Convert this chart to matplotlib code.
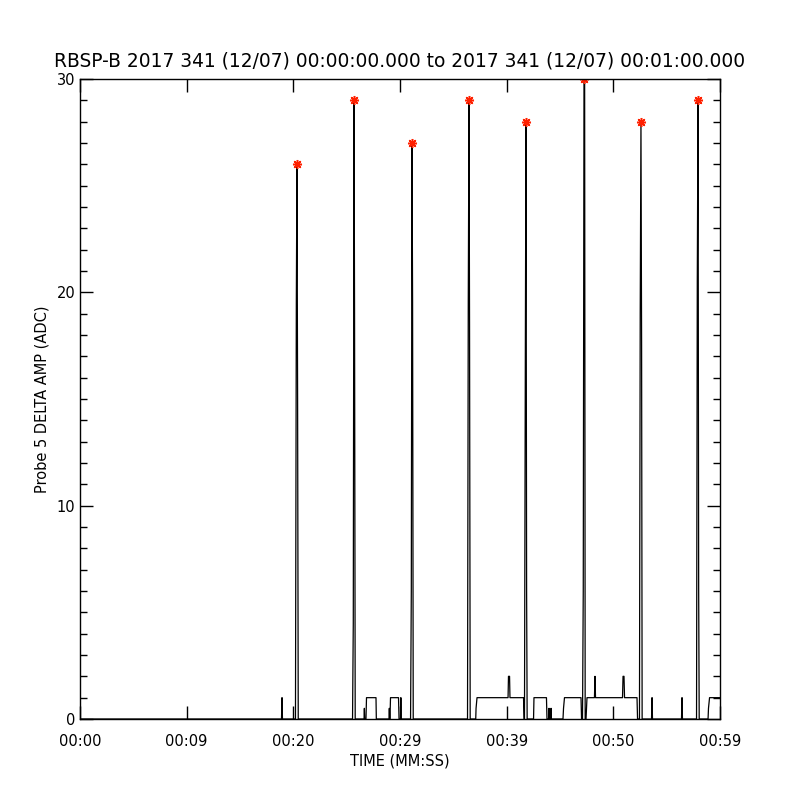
import matplotlib
matplotlib.use("Agg")
import matplotlib.pyplot as plt
from matplotlib.ticker import MultipleLocator

# time (s) and delta amplitude (ADC)
t = [0.0,
     18.89, 18.94, 18.98,
     20.20, 20.28, 20.34, 20.40, 20.46,
     25.55, 25.62, 25.69, 25.74, 25.80,
     26.63, 26.66, 26.69, 26.81, 26.86, 27.75, 27.78,
     28.97, 29.00, 29.03, 29.06, 29.11, 29.86, 29.91, 30.05, 30.08, 30.11,
     30.99, 31.06, 31.125, 31.18, 31.24,
     36.33, 36.40, 36.47, 36.52, 36.58,
     37.10, 37.13, 37.22, 40.13, 40.17, 40.27, 40.31, 41.58, 41.63,
     41.67, 41.75, 41.81, 41.87, 41.92,
     42.52, 42.56, 43.73, 43.78,
     43.94, 43.97, 44.00, 44.13, 44.16, 44.19,
     45.28, 45.33, 45.42, 46.97, 47.02,
     47.11, 47.18, 47.25, 47.31, 47.36,
     47.44, 47.53, 48.23, 48.28, 48.33, 50.86, 50.91, 51.00, 51.05, 52.22, 52.27,
     52.45, 52.52, 52.59, 52.65, 52.70,
     53.58, 53.63, 53.67, 56.39, 56.44, 56.48,
     57.80, 57.87, 57.94, 58.00, 58.05,
     58.88, 58.92, 59.02, 60.0]
amp = [0,
       0, 1, 0,
       0, 19.5, 26, 15, 0,
       0, 4.5, 29, 19, 0,
       0, 0.5, 0, 0, 1, 1, 0,
       0, 0.5, 0, 0, 1, 1, 0, 0, 1, 0,
       0, 6, 27, 19.5, 0,
       0, 19.5, 29, 18.5, 0,
       0, 0.5, 1, 1, 2, 2, 1, 1, 0,
       0, 17, 28, 6, 0,
       0, 1, 1, 0,
       0, 0.5, 0, 0, 0.5, 0,
       0, 0.5, 1, 1, 0,
       0, 6, 30, 30, 0,
       0, 1, 1, 2, 1, 1, 2, 2, 1, 1, 0,
       0, 19, 28, 17.5, 0,
       0, 1, 0, 0, 1, 0,
       0, 20.5, 29, 6, 0,
       0, 0.5, 1, 1]

# peak markers
peak_t = [20.34, 25.69, 31.125, 36.47, 41.81, 47.25, 52.59, 57.94]
peak_amp = [26, 29, 27, 29, 28, 30, 28, 29]

xticks = [0, 10, 20, 30, 40, 50, 60]
xlabels = ["00:00", "00:09", "00:20", "00:29", "00:39", "00:50", "00:59"]

fig = plt.figure(figsize=(8, 8), dpi=100)
ax = fig.add_axes([0.1, 0.10125, 0.8, 0.8])

ax.plot(t, amp, color="black", lw=0.9)
ax.plot(peak_t, peak_amp, linestyle="none", marker=(8, 2, 0), ms=6.5,
        mew=1.1, color="#ff2000")

ax.set_xlim(0, 60)
ax.set_ylim(0, 30)
ax.set_xticks(xticks)
ax.set_xticklabels(xlabels)
ax.set_yticks([0, 10, 20, 30])
ax.yaxis.set_minor_locator(MultipleLocator(1))

ax.tick_params(which="both", direction="in", top=True, right=True,
               labelsize=10.5, width=1)
ax.tick_params(which="major", length=9.5)
ax.tick_params(which="minor", length=5)
ax.tick_params(axis="x", pad=11)
ax.tick_params(axis="y", pad=3.5)
for s in ax.spines.values():
    s.set_linewidth(1)

ax.set_xlabel("TIME (MM:SS)", fontsize=10.5, labelpad=3)
ax.set_ylabel("Probe 5 DELTA AMP (ADC)", fontsize=10.5, labelpad=5)
ax.set_title("RBSP-B 2017 341 (12/07) 00:00:00.000 to 2017 341 (12/07) 00:01:00.000",
             fontsize=13.4, pad=9)

fig.savefig("out.png", dpi=100)
